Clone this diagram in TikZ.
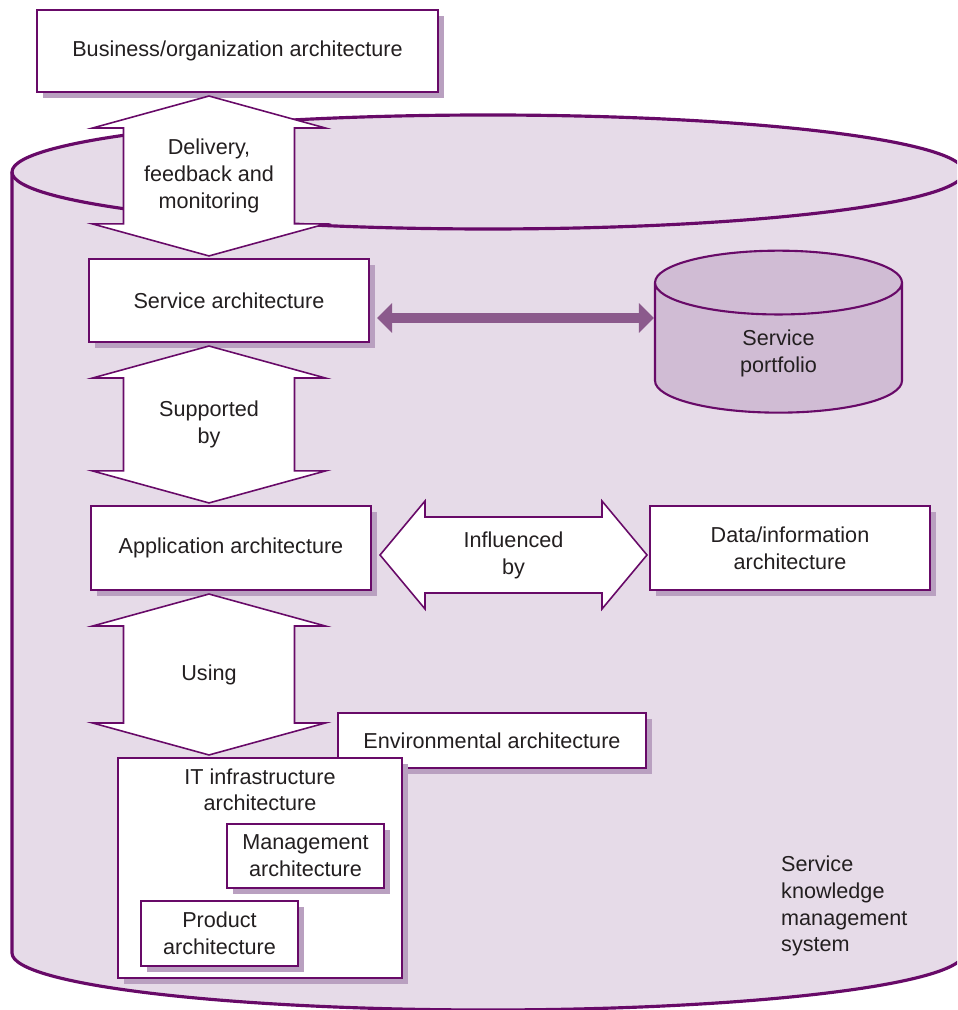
\documentclass[tikz,border=0pt]{standalone}
\usepackage{fontspec}
\setmainfont{Liberation Sans}
\usetikzlibrary{positioning,calc,shapes.geometric,shadows,arrows.meta}

\definecolor{plum}{RGB}{104,10,104}
\definecolor{skmsfill}{RGB}{230,219,232}
\definecolor{portfill}{RGB}{208,188,212}
\definecolor{boxshade}{RGB}{185,160,192}
\definecolor{linkfill}{RGB}{139,90,140}
\definecolor{txt}{RGB}{35,31,32}

% vertical double arrow from node #1 (above) to node #2 (below)
\newcommand{\vlink}[4]{%
  \coordinate (t) at ($(axis |- #1.south)+(0,-3)$);
  \coordinate (b) at ($(axis |- #2.north)+(0,2)$);
  \draw[dbl] (t) -- ++(116.5,-32) -- ++(-31,0) -- ($(b)+(85.5,32)$) -- ++(31,0) -- (b)
    -- ++(-116.5,32) -- ++(31,0) -- ($(t)+(-85.5,-32)$) -- ++(-31,0) -- cycle;
  \node[align=center] (#3) at ($(t)!0.5!(b)$) {#4};
}
% horizontal double arrow from node #1 (left) to node #2 (right)
\newcommand{\hlink}[4]{%
  \coordinate (l) at ($(#1.east |- haxis)+(8,0)$);
  \coordinate (r) at ($(#2.west |- haxis)+(-2,0)$);
  \draw[dbl] (l) -- ++(45,54) -- ++(0,-16) -- ($(r)+(-45,38)$) -- ++(0,16) -- (r)
    -- ++(-45,-54) -- ++(0,16) -- ($(l)+(45,-38)$) -- ++(0,-16) -- cycle;
  \node[align=center] (#3) at ($(l)!0.5!(r)$) {#4};
}

\begin{document}
\begin{tikzpicture}[x=0.02cm, y=0.02cm,
  every node/.style={text=txt, font=\fontsize{12.3}{15.3}\selectfont},
  box/.style={draw=plum, line width=1.2pt, fill=white, align=center, inner sep=2pt,
    drop shadow={shadow xshift=0.12cm, shadow yshift=-0.12cm, fill=boxshade, opacity=1}},
  dbl/.style={draw=plum, line width=0.9pt, fill=white, line join=miter},
  store/.style={cylinder, shape border rotate=90, draw=plum, align=center}]

	\useasboundingbox (0,0) rectangle (957,1010);
	\clip (0,0) rectangle (957,1010);

	% knowledge management system drum
	\coordinate (skmsl) at (12,838);
	\filldraw[draw=plum, fill=skmsfill, line width=1.8pt] (skmsl) -- (12,57) arc[start angle=180, end angle=360, x radius=476, y radius=57]
	  -- (964,838) arc[start angle=0, end angle=180, x radius=476, y radius=57] -- cycle;
	\draw[plum, line width=1.8pt] (skmsl) arc[start angle=180, end angle=360, x radius=476, y radius=57];
	\node[anchor=west, align=left] (skmslbl) at (775,104) {Service\\knowledge\\management\\system};

	\node[store, line width=1.2pt, fill=portfill, minimum width=4.94cm, minimum height=3.24cm, aspect=0.72] (port) at (778.5,657) {Service\\portfolio};

	\coordinate (axis) at (209,0);
	\coordinate (haxis) at (0,455);
	\coordinate (paxis) at (0,692);

	\node[box, minimum width=8.02cm, minimum height=1.64cm] (bus) at (237.5,959) {Business/organization architecture};
	\node[box, minimum width=5.6cm, minimum height=1.66cm] (svc) at (229,709.5) {Service architecture};
	\node[box, minimum width=5.6cm, minimum height=1.68cm] (app) at (231,462) {Application architecture};
	\node[box, minimum width=5.6cm, minimum height=1.68cm] (data) at (790,462) {Data/information\\architecture};
	\node[box, minimum width=6.16cm, minimum height=1.1cm] (env) at (492,269.5) {Environmental architecture};
	\node[box, minimum width=5.68cm, minimum height=4.4cm,
	  label={[name=itlbl, anchor=north, align=center, yshift=-3pt]north:IT infrastructure\\architecture}] (it) at (260,142) {};
	\node[box, minimum width=3.14cm, minimum height=1.28cm] (mgmt) at (305.5,154) {Management\\architecture};
	\node[box, minimum width=3.14cm, minimum height=1.3cm] (prod) at (219.5,76.5) {Product\\architecture};

	\vlink{bus}{svc}{deliv}{Delivery,\\feedback and\\monitoring}
	\vlink{svc}{app}{supp}{Supported\\by}
	\vlink{app}{it}{using}{Using}
	\hlink{app}{data}{infl}{Influenced\\by}

	\draw[linkfill, line width=0.2cm, {Triangle[length=0.3cm, width=0.58cm]}-{Triangle[length=0.3cm, width=0.58cm]}]
	  ($(svc.east |- paxis)+(7,0)$) -- (port.180 |- paxis);
\end{tikzpicture}
\end{document}
